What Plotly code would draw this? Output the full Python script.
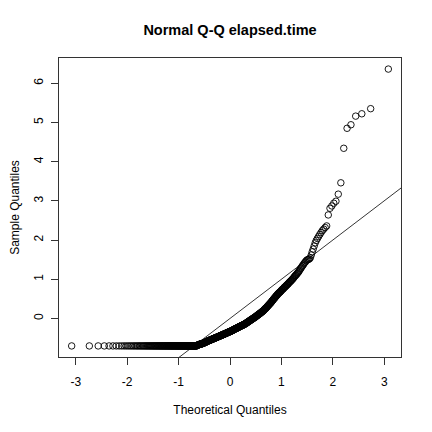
import plotly.graph_objects as go
from statistics import NormalDist

# ---- data (sorted sample values, standardized elapsed.time) ----
n_ties_at_min = 125
min_value = -0.70
rising_values = [
    -0.69, -0.69, -0.68, -0.68,
    -0.67, -0.67, -0.67, -0.66, -0.66, -0.66, -0.66, -0.65, -0.65, -0.65,
    -0.65, -0.65, -0.64, -0.64, -0.64, -0.63, -0.63, -0.63, -0.62, -0.62,
    -0.62, -0.62, -0.61, -0.61, -0.60, -0.60, -0.60, -0.59, -0.59, -0.58,
    -0.58, -0.58, -0.57, -0.57, -0.57, -0.56, -0.56, -0.56, -0.55, -0.55,
    -0.55, -0.55, -0.54, -0.54, -0.54, -0.53, -0.53, -0.53, -0.52, -0.52,
    -0.52, -0.52, -0.51, -0.51, -0.51, -0.50, -0.50, -0.50, -0.49, -0.49,
    -0.49, -0.49, -0.48, -0.48, -0.48, -0.47, -0.47, -0.47, -0.46, -0.46,
    -0.46, -0.46, -0.45, -0.45, -0.45, -0.44, -0.44, -0.44, -0.43, -0.43,
    -0.43, -0.43, -0.42, -0.42, -0.42, -0.41, -0.41, -0.41, -0.40, -0.40,
    -0.40, -0.40, -0.39, -0.39, -0.39, -0.38, -0.38, -0.38, -0.37, -0.37,
    -0.37, -0.37, -0.36, -0.36, -0.36, -0.35, -0.35, -0.35, -0.34, -0.34,
    -0.34, -0.34, -0.33, -0.33, -0.33, -0.32, -0.32, -0.32, -0.31, -0.31,
    -0.31, -0.30, -0.30, -0.30, -0.29, -0.29, -0.28, -0.28, -0.28, -0.27,
    -0.27, -0.27, -0.26, -0.26, -0.26, -0.25, -0.25, -0.25, -0.24, -0.24,
    -0.24, -0.23, -0.23, -0.23, -0.22, -0.22, -0.21, -0.21, -0.21, -0.20,
    -0.20, -0.20, -0.19, -0.19, -0.19, -0.18, -0.18, -0.18, -0.17, -0.17,
    -0.17, -0.16, -0.16, -0.16, -0.15, -0.15, -0.14, -0.14, -0.14, -0.13,
    -0.13, -0.12, -0.12, -0.11, -0.11, -0.10, -0.10, -0.09, -0.09, -0.08,
    -0.08, -0.07, -0.07, -0.06, -0.06, -0.05, -0.05, -0.04, -0.04, -0.03,
    -0.03, -0.02, -0.02, -0.01, -0.01, 0.00, 0.00, 0.01, 0.01, 0.02,
    0.02, 0.03, 0.03, 0.04, 0.04, 0.05, 0.06, 0.06, 0.07, 0.07,
    0.08, 0.09, 0.09, 0.10, 0.10, 0.11, 0.12, 0.12, 0.13, 0.13,
    0.14, 0.15, 0.15, 0.16, 0.17, 0.17, 0.18, 0.19, 0.19, 0.20,
    0.21, 0.22, 0.23, 0.24, 0.25, 0.25, 0.26, 0.27, 0.28, 0.29,
    0.30, 0.31, 0.32, 0.33, 0.34, 0.35, 0.36, 0.37, 0.38, 0.39,
    0.40, 0.41, 0.42, 0.44, 0.45, 0.46, 0.47, 0.48, 0.50, 0.51,
    0.52, 0.53, 0.54, 0.56, 0.57, 0.58, 0.59, 0.60, 0.62, 0.63,
    0.64, 0.65, 0.66, 0.67, 0.68, 0.69, 0.70, 0.72, 0.73, 0.74,
    0.75, 0.76, 0.77, 0.79, 0.80, 0.81, 0.82, 0.83, 0.85, 0.86,
    0.87, 0.88, 0.90, 0.91, 0.93, 0.94, 0.95, 0.97, 0.98, 1.00,
    1.01, 1.03, 1.05, 1.07, 1.09, 1.10, 1.12, 1.14, 1.16, 1.18,
    1.20, 1.23, 1.26, 1.28, 1.31, 1.34, 1.36, 1.39, 1.42, 1.44,
]
upper_tail = [
    1.47, 1.49, 1.50, 1.51, 1.52, 1.55, 1.62, 1.70, 1.77, 1.85,
    1.93, 1.99, 2.04, 2.09, 2.14, 2.19, 2.24, 2.28, 2.32, 2.36,
    2.64, 2.81, 2.87, 2.94, 2.99, 3.17, 3.46, 4.34, 4.85, 4.94,
    5.16, 5.22, 5.35, 6.36,
]
sample_values = [min_value] * n_ties_at_min + rising_values + upper_tail

ref_intercept = 0.0
ref_slope = 1.0
x_tick_labels = [-3, -2, -1, 0, 1, 2, 3]
y_tick_labels = [0, 1, 2, 3, 4, 5, 6]

# ---- Q-Q transform (as qqnorm: ppoints with a = 0.5) ----
n = len(sample_values)
sample_sorted = sorted(sample_values)
theoretical = [NormalDist().inv_cdf((i + 0.5) / n) for i in range(n)]


def r_range(vals):
    lo, hi = min(vals), max(vals)
    pad = 0.04 * (hi - lo)
    return [lo - pad, hi + pad]


xr = r_range(theoretical)
yr = r_range(sample_sorted)

font_family = "Liberation Sans, Arial, Helvetica, sans-serif"

# page body has an 8px margin, so the figure is 424x424 placed at (8, 8)
W = H = 424

fig = go.Figure()
fig.add_trace(go.Scatter(
    x=theoretical, y=sample_sorted, mode="markers",
    marker=dict(symbol="circle-open", size=6.5, color="black",
                line=dict(color="black", width=0.9)),
    showlegend=False, hoverinfo="skip",
))
line_x = [xr[0] - 1, xr[1] + 1]
fig.add_trace(go.Scatter(
    x=line_x, y=[ref_intercept + ref_slope * v for v in line_x], mode="lines",
    line=dict(color="black", width=0.8), showlegend=False, hoverinfo="skip",
))

fig.update_layout(
    width=W, height=H,
    margin=dict(l=51, r=31, t=50, b=75),
    paper_bgcolor="white", plot_bgcolor="white",
    font=dict(family=font_family, size=12, color="black"),
    title=dict(text="<b>Normal Q-Q elapsed.time</b>", x=0.5, xref="paper",
               y=1 - 22 / H, yref="container", yanchor="middle",
               xanchor="center", font=dict(size=14.5, family=font_family, color="black")),
)
fig.update_xaxes(
    range=xr, tickvals=x_tick_labels, ticktext=[str(v) for v in x_tick_labels],
    ticks="outside", ticklen=7, tickwidth=1, tickcolor="#333",
    showline=True, mirror=True, linecolor="#333", linewidth=1,
    showgrid=False, zeroline=False, automargin=False,
    ticklabelstandoff=7,
    tickfont=dict(size=12, family=font_family, color="black"),
    title=dict(text="Theoretical Quantiles", standoff=17,
               font=dict(size=12, family=font_family, color="black")),
)
fig.update_yaxes(
    range=yr, tickvals=y_tick_labels, ticktext=[str(v) for v in y_tick_labels],
    ticks="outside", ticklen=7, tickwidth=1, tickcolor="#333", tickangle=-90,
    showline=True, mirror=True, linecolor="#333", linewidth=1,
    showgrid=False, zeroline=False, automargin=False,
    ticklabelstandoff=3,
    tickfont=dict(size=12, family=font_family, color="black"),
    title=dict(text="Sample Quantiles", standoff=17,
               font=dict(size=12, family=font_family, color="black")),
)

fig.write_html("out.html")
